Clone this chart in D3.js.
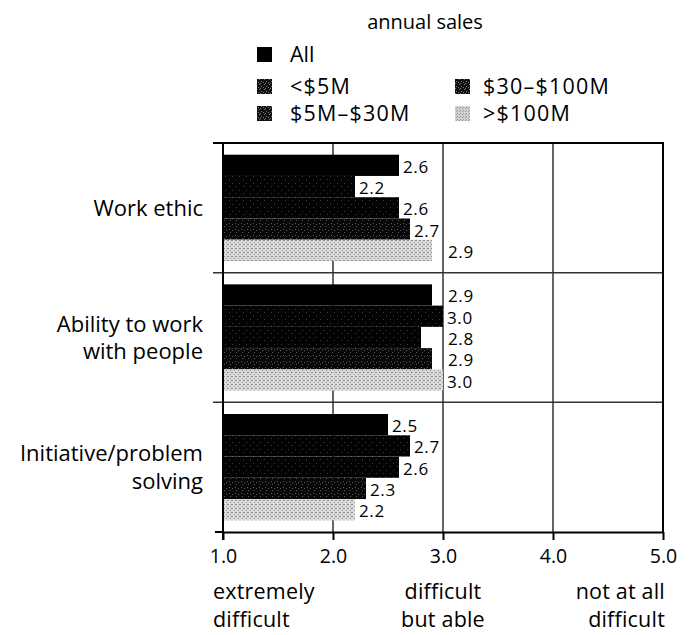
<!DOCTYPE html>
<html>
<head>
<meta charset="utf-8">
<script src="https://cdn.jsdelivr.net/npm/d3@7/dist/d3.min.js"></script>
<style>
  html, body { margin: 0; padding: 0; background: #fff; }
  svg { display: block; font-family: "Open Sans", "Noto Sans", sans-serif; }
</style>
</head>
<body>
<svg id="chart" width="700" height="635"></svg>
<script>
// ---------- DATA ----------
const categories = ["Work ethic", "Ability to work with people", "Initiative/problem solving"];
const categoryLines = [["Work ethic"], ["Ability to work", "with people"], ["Initiative/problem", "solving"]];
const series = ["All", "<$5M", "$5M–$30M", "$30–$100M", ">$100M"];
const valuesAll      = [2.6, 2.9, 2.5];
const valuesUnder5M  = [2.2, 3.0, 2.7];
const values5to30M   = [2.6, 2.8, 2.6];
const values30to100M = [2.7, 2.9, 2.3];
const valuesOver100M = [2.9, 3.0, 2.2];
const seriesValues = [valuesAll, valuesUnder5M, values5to30M, values30to100M, valuesOver100M];
const xTicks = [1, 2, 3, 4, 5];
const scalePoints = [1, 3, 5];
const scaleLabels = [["extremely", "difficult"], ["difficult", "but able"], ["not at all", "difficult"]];
const legendTitle = "annual sales";

// ---------- SETUP ----------
const svg = d3.select("#chart");
const defs = svg.append("defs");

// textures imitating the printed halftones
function makePattern(id, size, base, dot, dots) {
  const p = defs.append("pattern").attr("id", id).attr("patternUnits", "userSpaceOnUse")
    .attr("width", size).attr("height", size);
  p.append("rect").attr("width", size).attr("height", size).attr("fill", base);
  dots.forEach(([dx, dy]) => p.append("rect").attr("x", dx).attr("y", dy).attr("width", 1).attr("height", 1).attr("fill", dot));
}
makePattern("darkBar", 7, "#030303", "#3c3c3c", [[1, 1], [5, 4]]);
makePattern("darkBar2", 6, "#080808", "#5a5a5a", [[1, 1], [4, 2], [2, 4]]);
makePattern("dark", 5, "#111", "#777", [[1, 1], [3, 2], [0, 3], [4, 4]]);
makePattern("light", 4, "#dadada", "#909090", [[0, 0], [2, 2], [3, 0]]);
makePattern("lightLeg", 3, "#d0d0d0", "#9a9a9a", [[0, 0], [1, 2]]);

const fills = ["#000", "url(#darkBar)", "url(#darkBar)", "url(#darkBar2)", "url(#light)"];
const legendFills = ["#000", "url(#dark)", "url(#dark)", "url(#dark)", "url(#lightLeg)"];

const plotLeft = 223, plotRight = 663, plotTop = 143, plotBottom = 532;

const x = d3.scaleLinear().domain([1, 5]).range([plotLeft, plotRight]);
const y0 = d3.scaleBand().domain(categories).range([plotTop, plotBottom]).padding(0);
const y1 = d3.scaleBand().domain(series).range([0, y0.bandwidth()]).paddingInner(0).paddingOuter(0.55);

// ---------- GRID ----------
const grid = svg.append("g");
grid.selectAll("line.v").data(xTicks.filter(t => t > 1 && t < 5)).enter().append("line")
  .attr("x1", d => x(d)).attr("x2", d => x(d))
  .attr("y1", plotTop).attr("y2", plotBottom)
  .attr("stroke", "#333").attr("stroke-width", 1.5);
const boundaries = categories.map(c => y0(c)).concat([plotBottom]);
grid.selectAll("line.h").data(boundaries.slice(1, -1)).enter().append("line")
  .attr("x1", plotLeft - 10).attr("x2", plotRight)
  .attr("y1", d => d).attr("y2", d => d)
  .attr("stroke", "#333").attr("stroke-width", 1.5);

// ---------- BARS ----------
const rows = [];
categories.forEach((c, ci) => series.forEach((s, si) => rows.push({ c, s, si, v: seriesValues[si][ci] })));

svg.append("g").selectAll("rect").data(rows).enter().append("rect")
  .attr("x", x(1))
  .attr("y", d => y0(d.c) + y1(d.s))
  .attr("width", d => x(d.v) - x(1))
  .attr("height", y1.bandwidth())
  .attr("fill", d => fills[d.si]);

// ---------- FRAME ----------
const frame = svg.append("g").attr("stroke", "#000").attr("stroke-width", 2).attr("fill", "none");
frame.append("line").attr("x1", plotLeft - 10).attr("x2", plotRight + 1).attr("y1", plotTop).attr("y2", plotTop);
frame.append("line").attr("x1", plotRight).attr("x2", plotRight).attr("y1", plotTop).attr("y2", plotBottom);
frame.append("line").attr("x1", plotLeft).attr("x2", plotLeft).attr("y1", plotTop).attr("y2", plotBottom + 8);
frame.append("line").attr("x1", plotLeft - 8).attr("x2", plotLeft).attr("y1", plotBottom).attr("y2", plotBottom);

// x axis
const xAxis = d3.axisBottom(x).tickValues(xTicks).tickFormat(d3.format(".1f")).tickSize(8).tickSizeOuter(0).tickPadding(9);
const gx = svg.append("g").attr("transform", `translate(0,${plotBottom})`).call(xAxis);
gx.select(".domain").attr("stroke", "#000").attr("stroke-width", 2.2);
gx.selectAll(".tick line").attr("stroke", "#000").attr("stroke-width", 2);
gx.selectAll(".tick text").attr("font-size", 19.5).attr("font-family", "Open Sans").attr("fill", "#000");

// ---------- VALUE LABELS ----------
const labelSize = 17;
const labels = svg.append("g").attr("font-size", labelSize).attr("letter-spacing", 0.6).attr("fill", "#000");
labels.selectAll("text").data(rows).enter().append("text")
  .attr("y", d => y0(d.c) + y1(d.s) + y1.bandwidth() / 2 + 1)
  .attr("dominant-baseline", "central")
  .text(d => d3.format(".1f")(d.v))
  .each(function (d) {
    const w = this.getComputedTextLength();
    let lx = x(d.v) + 4;
    const gridX = x(3);
    if (lx < gridX + 4 && lx + w > gridX - 1) lx = gridX + 5;
    d3.select(this).attr("x", lx);
  });

// ---------- CATEGORY LABELS ----------
const catG = svg.append("g").attr("font-size", 22).attr("fill", "#000").attr("text-anchor", "end");
categories.forEach((c, ci) => {
  const lines = categoryLines[ci];
  const lh = 27.5;
  const cy = y0(c) + y0.bandwidth() / 2;
  const t = catG.append("text").attr("x", plotLeft - 20).attr("dominant-baseline", "central");
  lines.forEach((ln, li) => {
    t.append("tspan").attr("x", plotLeft - 20)
      .attr("y", cy + (li - (lines.length - 1) / 2) * lh - 1)
      .text(ln);
  });
});

// ---------- SCALE LABELS ----------
const anchors = ["start", "middle", "end"];
const offsets = [-10, 0, 2];
const sl = svg.append("g").attr("font-size", 21.5).attr("letter-spacing", 0.2).attr("fill", "#000");
scalePoints.forEach((v, i) => {
  scaleLabels[i].forEach((ln, li) => {
    sl.append("text").attr("x", x(v) + offsets[i]).attr("y", 599 + li * 27.5)
      .attr("text-anchor", anchors[i]).text(ln);
  });
});

// ---------- LEGEND ----------
svg.append("text").attr("x", 425).attr("y", 29).attr("text-anchor", "middle")
  .attr("font-size", 20).attr("fill", "#000").text(legendTitle);
const legCols = [257, 455];
const legTextX = [290, 483];
const legRows = [47, 79, 106];
const legPos = [[0, 0], [0, 1], [0, 2], [1, 1], [1, 2]];
const leg = svg.append("g");
series.forEach((s, i) => {
  const [col, row] = legPos[i];
  leg.append("rect").attr("x", legCols[col]).attr("y", legRows[row]).attr("width", 15).attr("height", 15)
    .attr("fill", legendFills[i]);
  leg.append("text").attr("x", legTextX[col]).attr("y", legRows[row] + 15)
    .attr("font-size", 21.5).attr("letter-spacing", i === 0 ? 0 : 1.2).attr("fill", "#000").text(s);
});
</script>
</body>
</html>
